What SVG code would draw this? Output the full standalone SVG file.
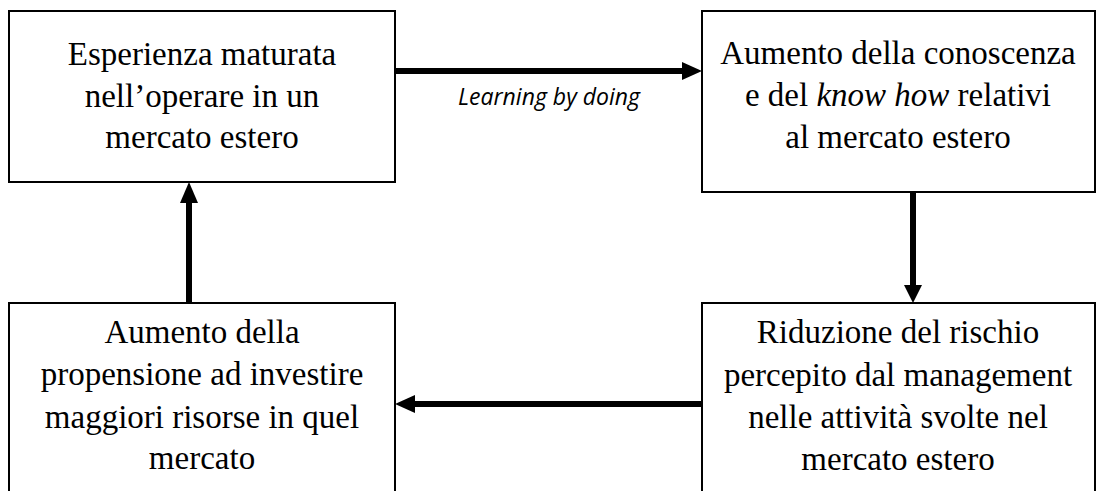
<svg xmlns="http://www.w3.org/2000/svg" width="1097" height="491" viewBox="0 0 1097 491">
  <style>
    .box { fill: #ffffff; stroke: #000000; stroke-width: 2; }
    .txt { font-family: "Liberation Serif", serif; font-size: 33px; fill: #000000; text-anchor: middle; }
    .lbl { font-family: "Open Sans", sans-serif; font-style: italic; font-size: 23px; fill: #000000; text-anchor: middle; }
    .conn { stroke: #000000; stroke-width: 6; fill: none; }
    .head { fill: #000000; }
  </style>
  <rect width="1097" height="491" fill="#ffffff"/>

  <g id="node-esperienza">
    <rect class="box" x="9" y="11" width="386" height="171"/>
    <text class="txt" x="202" y="65">Esperienza maturata</text>
    <text class="txt" x="202" y="107">nell’operare in un</text>
    <text class="txt" x="202" y="148">mercato estero</text>
  </g>

  <g id="node-conoscenza">
    <rect class="box" x="702" y="11" width="393" height="181"/>
    <text class="txt" x="898" y="64">Aumento della conoscenza</text>
    <text class="txt" x="898" y="106">e del <tspan font-style="italic">know how</tspan> relativi</text>
    <text class="txt" x="898" y="148">al mercato estero</text>
  </g>

  <g id="node-rischio">
    <rect class="box" x="702" y="303" width="393" height="200"/>
    <text class="txt" x="898" y="343">Riduzione del rischio</text>
    <text class="txt" x="898" y="386">percepito dal management</text>
    <text class="txt" x="898" y="428">nelle attività svolte nel</text>
    <text class="txt" x="898" y="470">mercato estero</text>
  </g>

  <g id="node-propensione">
    <rect class="box" x="9" y="303" width="386" height="200"/>
    <text class="txt" x="202" y="343">Aumento della</text>
    <text class="txt" x="202" y="385">propensione ad investire</text>
    <text class="txt" x="202" y="428">maggiori risorse in quel</text>
    <text class="txt" x="202" y="469">mercato</text>
  </g>

  <g id="connectors">
    <!-- experience -> knowledge -->
    <line class="conn" x1="395" y1="71" x2="683" y2="71"/>
    <polygon class="head" points="682,62 702,71 682,80"/>
    <text class="lbl" x="549" y="105">Learning by doing</text>
    <!-- knowledge -> risk -->
    <line class="conn" x1="913" y1="192" x2="913" y2="286"/>
    <polygon class="head" points="904,285 913,303 922,285"/>
    <!-- risk -> propensity -->
    <line class="conn" x1="702" y1="404" x2="414" y2="404"/>
    <polygon class="head" points="415,395 395,404 415,413"/>
    <!-- propensity -> experience -->
    <line class="conn" x1="189" y1="303" x2="189" y2="202"/>
    <polygon class="head" points="180,203 189,182 198,203"/>
  </g>
</svg>
